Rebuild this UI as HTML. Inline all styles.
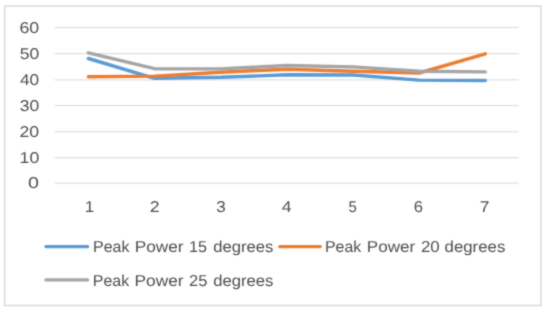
<!DOCTYPE html>
<html><head><meta charset="utf-8"><style>
html,body{margin:0;padding:0;background:#fff;width:550px;height:313px;overflow:hidden}
svg{display:block}
text{font-family:"Liberation Sans",sans-serif;fill:#4f4f4f;text-rendering:geometricPrecision}
</style></head><body>
<svg width="550" height="313" viewBox="0 0 550 313">
<defs><filter id="b" x="0" y="0" width="1" height="1" color-interpolation-filters="sRGB"><feConvolveMatrix order="3" kernelMatrix="1 2 1 2 12 2 1 2 1" divisor="24" edgeMode="duplicate"/></filter></defs>
<g filter="url(#b)">
<rect x="0" y="0" width="550" height="313" fill="#fff"/>
<rect x="4.7" y="6.1" width="536.2" height="299.4" fill="none" stroke="#d9d9d9" stroke-width="1.5"/>
<g fill="#d9d9d9"><rect x="54.7" y="26.90" width="463.90" height="1"/><rect x="54.7" y="53.10" width="463.90" height="1"/><rect x="54.7" y="79.40" width="463.90" height="1"/><rect x="54.7" y="105.00" width="463.90" height="1"/><rect x="54.7" y="131.30" width="463.90" height="1"/><rect x="54.7" y="157.20" width="463.90" height="1"/><rect x="54.7" y="182.70" width="463.90" height="1"/></g>
<g><text transform="translate(19.40 32.58) scale(1.1379 1)" font-size="15.6">60</text><text transform="translate(19.65 58.78) scale(1.1230 1)" font-size="15.6">50</text><text transform="translate(19.95 85.08) scale(1.1047 1)" font-size="15.6">40</text><text transform="translate(19.68 110.68) scale(1.1209 1)" font-size="15.6">30</text><text transform="translate(19.46 136.98) scale(1.1342 1)" font-size="15.6">20</text><text transform="translate(19.61 162.88) scale(1.1315 1)" font-size="15.6">10</text><text transform="translate(27.98 188.38) scale(1.2605 1)" font-size="15.6">0</text><text transform="translate(84.66 212.40) scale(1.0853 1)" font-size="15.6">1</text><text transform="translate(149.86 212.40) scale(1.1397 1)" font-size="15.6">2</text><text transform="translate(216.30 212.40) scale(1.0951 1)" font-size="15.6">3</text><text transform="translate(281.74 212.40) scale(1.1322 1)" font-size="15.6">4</text><text transform="translate(348.55 212.40) scale(0.9599 1)" font-size="15.6">5</text><text transform="translate(413.70 212.40) scale(1.0697 1)" font-size="15.6">6</text><text transform="translate(479.86 212.40) scale(1.1140 1)" font-size="15.6">7</text></g>
<g fill="none" stroke-width="3.4" stroke-linecap="round" stroke-linejoin="round">
<polyline points="88.40,58.50 154.55,78.30 220.70,77.30 286.85,74.80 353.00,75.00 419.15,80.10 485.30,80.50" stroke="#5b9bd5"/>
<polyline points="88.40,76.70 154.55,76.10 220.70,72.20 286.85,69.20 353.00,71.30 419.15,73.00 485.30,53.80" stroke="#ed7d31"/>
<polyline points="88.40,52.80 154.55,68.70 220.70,68.90 286.85,65.50 353.00,66.90 419.15,71.30 485.30,71.90" stroke="#a5a5a5"/>
</g>
<g stroke-width="3.4" stroke-linecap="round">
<line x1="46" y1="246.6" x2="87.6" y2="246.6" stroke="#5b9bd5"/>
<line x1="279.8" y1="246.6" x2="320.2" y2="246.6" stroke="#ed7d31"/>
<line x1="46" y1="279.9" x2="87.6" y2="279.9" stroke="#a5a5a5"/>
</g>
<g><text transform="translate(93.04 251.50) scale(1.0104 1)" font-size="15.8">Peak</text><text transform="translate(134.74 251.50) scale(1.0896 1)" font-size="15.8">Power</text><text transform="translate(189.02 251.50) scale(1.0186 1)" font-size="15.8">15</text><text transform="translate(213.15 251.50) scale(1.0544 1)" font-size="15.8">degrees</text><text transform="translate(324.94 251.50) scale(1.0075 1)" font-size="15.8">Peak</text><text transform="translate(366.85 251.50) scale(1.0780 1)" font-size="15.8">Power</text><text transform="translate(420.90 251.50) scale(1.0704 1)" font-size="15.8">20</text><text transform="translate(444.54 251.50) scale(1.0651 1)" font-size="15.8">degrees</text><text transform="translate(92.84 285.50) scale(1.0104 1)" font-size="15.8">Peak</text><text transform="translate(134.53 285.50) scale(1.0942 1)" font-size="15.8">Power</text><text transform="translate(189.02 285.50) scale(1.0424 1)" font-size="15.8">25</text><text transform="translate(213.15 285.50) scale(1.0544 1)" font-size="15.8">degrees</text></g>
</g>
</svg>
</body></html>
